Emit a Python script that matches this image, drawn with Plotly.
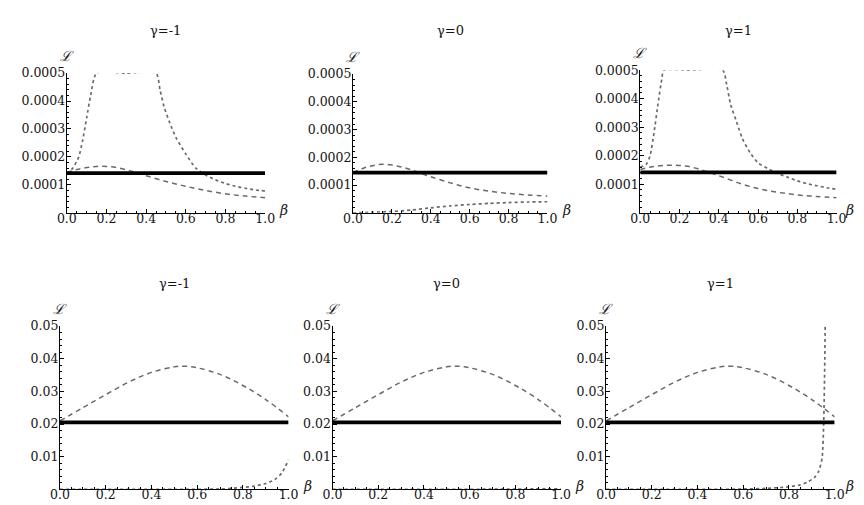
import plotly.graph_objects as go

# ---------------- data ----------------
gammas = ["γ=-1", "γ=0", "γ=1"]

# top row (small L values)
top_solid_level = [0.000142, 0.000145, 0.000142]

top_dash_beta = [0, 0.05, 0.1, 0.15, 0.2, 0.25, 0.3, 0.35, 0.4, 0.5, 0.6, 0.7, 0.8, 0.9, 1.0]
top_dash_gm1 = [1.45e-4, 1.55e-4, 1.62e-4, 1.66e-4, 1.66e-4, 1.62e-4, 1.54e-4, 1.44e-4, 1.33e-4,
                1.12e-4, 0.95e-4, 0.80e-4, 0.68e-4, 0.60e-4, 0.54e-4]
top_dash_g0 = [1.45e-4, 1.60e-4, 1.70e-4, 1.75e-4, 1.72e-4, 1.65e-4, 1.55e-4, 1.42e-4, 1.30e-4,
               1.08e-4, 0.90e-4, 0.78e-4, 0.70e-4, 0.64e-4, 0.60e-4]
top_dash_g1 = [1.52e-4, 1.60e-4, 1.65e-4, 1.67e-4, 1.66e-4, 1.62e-4, 1.53e-4, 1.42e-4, 1.30e-4,
               1.05e-4, 0.85e-4, 0.72e-4, 0.63e-4, 0.57e-4, 0.53e-4]

top_dot_gm1_beta = [0, 0.03, 0.06, 0.08, 0.1, 0.12, 0.15, 0.3, 0.45, 0.47, 0.49, 0.52, 0.55,
                    0.6, 0.65, 0.7, 0.75, 0.8, 0.85, 0.9, 0.95, 1.0]
top_dot_gm1 = [1.4e-4, 1.6e-4, 2.0e-4, 2.6e-4, 3.4e-4, 4.2e-4, 5.0e-4, 5.0e-4, 5.0e-4, 4.4e-4,
               3.8e-4, 3.2e-4, 2.7e-4, 2.1e-4, 1.6e-4, 1.35e-4, 1.18e-4, 1.05e-4, 0.95e-4,
               0.88e-4, 0.82e-4, 0.78e-4]

top_dot_g0_beta = [0, 0.1, 0.2, 0.3, 0.4, 0.5, 0.6, 0.7, 0.8, 0.9, 1.0]
top_dot_g0 = [0, 0.02e-4, 0.05e-4, 0.1e-4, 0.18e-4, 0.25e-4, 0.3e-4, 0.34e-4, 0.37e-4,
              0.39e-4, 0.4e-4]

top_dot_g1_beta = [0, 0.03, 0.05, 0.07, 0.09, 0.11, 0.12, 0.25, 0.42, 0.44, 0.46, 0.49, 0.52,
                   0.56, 0.6, 0.65, 0.7, 0.75, 0.8, 0.85, 0.9, 0.95, 1.0]
top_dot_g1 = [1.6e-4, 1.7e-4, 2.0e-4, 2.8e-4, 3.8e-4, 4.7e-4, 5.0e-4, 5.0e-4, 5.0e-4, 4.5e-4,
              3.8e-4, 3.2e-4, 2.6e-4, 2.1e-4, 1.75e-4, 1.55e-4, 1.38e-4, 1.25e-4, 1.12e-4,
              1.02e-4, 0.95e-4, 0.88e-4, 0.82e-4]

# bottom row (large L values)
bot_solid_level = [0.0205, 0.0205, 0.0205]

bot_dash_beta = [0, 0.1, 0.2, 0.3, 0.4, 0.5, 0.55, 0.6, 0.7, 0.8, 0.9, 1.0]
bot_dash = [0.021, 0.025, 0.029, 0.0328, 0.0358, 0.0375, 0.0377, 0.0372, 0.0352, 0.0318,
            0.0275, 0.0222]

bot_dot_gm1_beta = [0, 0.5, 0.7, 0.75, 0.8, 0.85, 0.9, 0.94, 0.97, 1.0]
bot_dot_gm1 = [0, 0, 0.0001, 0.0003, 0.0006, 0.001, 0.0018, 0.003, 0.005, 0.009]

bot_dot_g0_beta = [0, 0.5, 0.8, 1.0]
bot_dot_g0 = [0, 0, 0.0001, 0.0002]

bot_dot_g1_beta = [0, 0.5, 0.6, 0.7, 0.8, 0.85, 0.88, 0.91, 0.93, 0.945, 0.952, 0.957, 0.96]
bot_dot_g1 = [0, 0, 0.0001, 0.0003, 0.0008, 0.0014, 0.0022, 0.0035, 0.0055, 0.0095, 0.02,
              0.04, 0.06]

x_tickvals = [0, 0.2, 0.4, 0.6, 0.8, 1.0]
x_ticktext = ["0.0", "0.2", "0.4", "0.6", "0.8", "1.0"]
top_tickvals = [0.0001, 0.0002, 0.0003, 0.0004, 0.0005]
top_ticktext = ["0.0001", "0.0002", "0.0003", "0.0004", "0.0005"]
bot_tickvals = [0.01, 0.02, 0.03, 0.04, 0.05]
bot_ticktext = ["0.01", "0.02", "0.03", "0.04", "0.05"]

# ---------------- layout geometry (pixels) ----------------
W, H = 864, 505
panels = [
    # x0, x1, ytop, ybottom
    (50, 253, 58, 200),
    (343, 542, 59, 200),
    (637, 838, 55, 200),
    (43, 277, 315, 481),
    (322, 556, 315, 481),
    (602, 836, 315, 481),
]

top_dash = [top_dash_gm1, top_dash_g0, top_dash_g1]
top_dot = [(top_dot_gm1_beta, top_dot_gm1), (top_dot_g0_beta, top_dot_g0),
           (top_dot_g1_beta, top_dot_g1)]
bot_dot = [(bot_dot_gm1_beta, bot_dot_gm1), (bot_dot_g0_beta, bot_dot_g0),
           (bot_dot_g1_beta, bot_dot_g1)]

fig = go.Figure()
FONT = "'DejaVu Serif', serif"
GRAY = "#6a6a6a"
TXT = "#151515"
TICKSIZE = 12.5

layout = {}
annotations = []
for i, (x0, x1, yt, yb) in enumerate(panels):
    n = i + 1
    xa = "x" if n == 1 else f"x{n}"
    ya = "y" if n == 1 else f"y{n}"
    top = i < 3
    k = i % 3
    if top:
        dash_x, dash_y = top_dash_beta, top_dash[k]
        dot_x, dot_y = top_dot[k]
        level = top_solid_level[k]
        yr = [0, 0.0005]
        tv, tt = top_tickvals, top_ticktext
        mdt = 0.00002
    else:
        dash_x, dash_y = bot_dash_beta, bot_dash
        dot_x, dot_y = bot_dot[k]
        level = bot_solid_level[k]
        yr = [0, 0.05]
        tv, tt = bot_tickvals, bot_ticktext
        mdt = 0.002

    fig.add_trace(go.Scatter(x=dot_x, y=dot_y, mode="lines", xaxis=xa, yaxis=ya,
                             line=dict(color=GRAY, width=1.7, dash="dot", shape="spline",
                                       smoothing=0.6),
                             showlegend=False, hoverinfo="skip"))
    fig.add_trace(go.Scatter(x=dash_x, y=dash_y, mode="lines", xaxis=xa, yaxis=ya,
                             line=dict(color=GRAY, width=1.5, dash="5px,4px", shape="spline"),
                             showlegend=False, hoverinfo="skip"))
    fig.add_trace(go.Scatter(x=[0, 1], y=[level, level], mode="lines", xaxis=xa, yaxis=ya,
                             line=dict(color="black", width=3.8),
                             showlegend=False, hoverinfo="skip"))

    key_x = "xaxis" if n == 1 else f"xaxis{n}"
    key_y = "yaxis" if n == 1 else f"yaxis{n}"
    layout[key_x] = dict(
        domain=[x0 / W, x1 / W], anchor=ya, range=[0, 1],
        showline=True, linecolor="black", linewidth=1.2, showgrid=False, zeroline=False,
        tickvals=x_tickvals, ticktext=x_ticktext, ticks="inside", ticklen=4,
        tickcolor="black", ticklabelstandoff=-6,
        minor=dict(ticks="inside", ticklen=2, dtick=0.05, tick0=0, tickcolor="black"),
        tickfont=dict(family=FONT, size=TICKSIZE, color=TXT), fixedrange=True,
    )
    layout[key_y] = dict(
        domain=[1 - yb / H, 1 - yt / H], anchor=xa, range=yr,
        showline=True, linecolor="black", linewidth=1.2, showgrid=False, zeroline=False,
        tickvals=tv, ticktext=tt, ticks="inside", ticklen=4, tickcolor="black",
        ticklabelstandoff=-2,
        minor=dict(ticks="inside", ticklen=2, dtick=mdt, tick0=0, tickcolor="black"),
        tickfont=dict(family=FONT, size=TICKSIZE, color=TXT), fixedrange=True,
    )

    # title
    cx = (x0 + x1) / 2
    ty = 15 if top else 272
    annotations.append(dict(text=gammas[k], x=cx / W, y=1 - ty / H, xref="paper",
                            yref="paper", showarrow=False, xanchor="center",
                            yanchor="middle",
                            font=dict(family=FONT, size=13, color=TXT)))
    # L label
    annotations.append(dict(text="<i>ℒ</i>", x=x0 / W, y=1 - (yt - 17) / H, xref="paper",
                            yref="paper", showarrow=False, xanchor="center",
                            yanchor="middle",
                            font=dict(family="DejaVu Serif", size=14, color=TXT)))
    # beta label
    bx = min(x1 + 19, 851)
    annotations.append(dict(text="<i>β</i>", x=bx / W, y=1 - (yb - 3) / H,
                            xref="paper", yref="paper", showarrow=False, xanchor="center",
                            yanchor="middle",
                            font=dict(family=FONT, size=14, color=TXT)))

fig.update_layout(
    width=W, height=H, margin=dict(l=0, r=0, t=0, b=0),
    paper_bgcolor="white", plot_bgcolor="rgba(0,0,0,0)",
    annotations=annotations, **layout,
)

fig.write_html("out.html", config={"displayModeBar": False})
